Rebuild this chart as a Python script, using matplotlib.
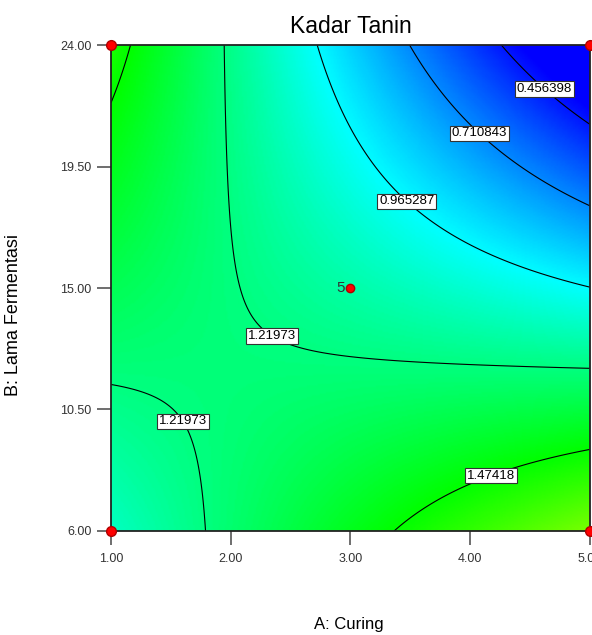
import numpy as np
import matplotlib
matplotlib.use("Agg")
import matplotlib.pyplot as plt
from matplotlib.colors import LinearSegmentedColormap, Normalize

# factor ranges and tick labels
curing_ticks = [1.0, 2.0, 3.0, 4.0, 5.0]
ferm_ticks = [6.0, 10.5, 15.0, 19.5, 24.0]

# quadratic model for Kadar Tanin in coded units (a = Curing, b = Lama Fermentasi)
# order: intercept, a, b, ab, a^2, b^2
model_coef = [1.1430, -0.1692, -0.2711, -0.4899, -0.0059, 0.0019]

contour_levels = [0.456398, 0.710843, 0.965287, 1.21973, 1.47418]

# design points (corners + center with 5 replicates)
design_a = [1.0, 1.0, 5.0, 5.0]
design_b = [6.0, 24.0, 6.0, 24.0]
center_a, center_b, center_reps = 3.0, 15.0, 5

# where the contour labels sit
label_pos = [(4.69, 22.74), (4.10, 20.85), (3.48, 18.26),
             (2.36, 13.33), (1.62, 10.11), (4.15, 8.33)]

# colour stops of the palette (response value -> colour)
color_vals = [0.40, 0.97, 1.47, 2.02, 2.57]
color_list = ['#0000ff', '#00ffff', '#00ff00', '#ffff00', '#ff0000']

narrow = ['Liberation Sans Narrow', 'Liberation Sans', 'DejaVu Sans']
plt.rcParams['font.family'] = narrow

A = np.linspace(1, 5, 300)
B = np.linspace(6, 24, 300)
AA, BB = np.meshgrid(A, B)
a = (AA - 3.0) / 2.0
b = (BB - 15.0) / 9.0
c = model_coef
Z = c[0] + c[1]*a + c[2]*b + c[3]*a*b + c[4]*a**2 + c[5]*b**2

# Design-Expert style palette
vmin, vmax = color_vals[0], color_vals[-1]
stops = [(v - vmin) / (vmax - vmin) for v in color_vals]
de_cmap = LinearSegmentedColormap.from_list('de', list(zip(stops, color_list)))
norm = Normalize(vmin=vmin, vmax=vmax)

fig = plt.figure(figsize=(5.92, 6.35), dpi=100)
ax = fig.add_axes([0.1875, 0.1638, 0.8091, 0.7653])

ax.pcolormesh(AA, BB, Z, cmap=de_cmap, norm=norm, shading='gouraud', rasterized=True)
cs = ax.contour(AA, BB, Z, levels=contour_levels, colors='black', linewidths=0.8)
ax.clabel(cs, manual=label_pos, inline=False, fmt='%.6g', fontsize=9.5)
for t in cs.labelTexts:
    t.set_rotation(0)
    t.set_bbox(dict(facecolor='white', edgecolor='#333333', linewidth=0.8, pad=1.2))

# design points
ax.plot(design_a, design_b, 'o', color='#ff0000', mec='#b00000', ms=7, clip_on=False, zorder=5)
ax.plot([center_a], [center_b], 'o', color='#ff0000', mec='#b00000', ms=6, zorder=5)
ax.text(center_a - 0.05, center_b, str(center_reps), ha='right', va='center',
        fontsize=11, color='#333333')

ax.set_xlim(1, 5)
ax.set_ylim(6, 24)
ax.set_xticks(curing_ticks)
ax.set_xticklabels(['%.2f' % v for v in curing_ticks])
ax.set_yticks(ferm_ticks)
ax.set_yticklabels(['%.2f' % v for v in ferm_ticks])
ax.tick_params(axis='both', direction='out', length=10, width=1.2, labelsize=9,
               colors='#555555', labelcolor='#333333')
ax.tick_params(axis='x', pad=6)
ax.tick_params(axis='y', pad=4)
for s in ax.spines.values():
    s.set_linewidth(1.3)
    s.set_color('#222222')

ax.set_title('Kadar Tanin', fontsize=16.5, pad=9)
fig.text(349/592, 1 - 625/635, 'A: Curing', ha='center', va='center', fontsize=12)
fig.text(14/592, 1 - 315/635, 'B: Lama Fermentasi', rotation=90, ha='center', va='center',
         fontsize=13, family=['Liberation Sans', 'DejaVu Sans'])

fig.savefig("out.png")
